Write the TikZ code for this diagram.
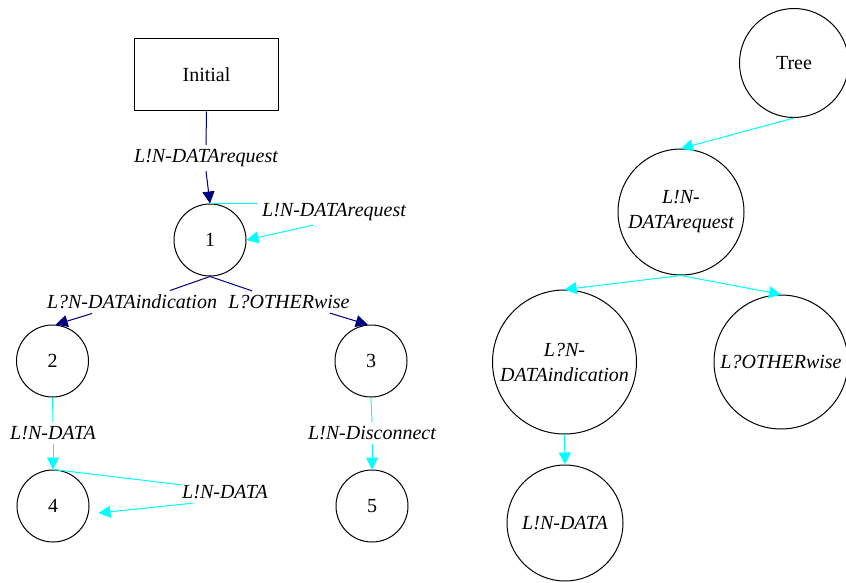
\documentclass[tikz,border=0pt]{standalone}
\usepackage{fontspec}
\setmainfont{Liberation Serif}
\usetikzlibrary{arrows.meta}
\definecolor{gvnavy}{RGB}{0,0,128}
\definecolor{gvcyan}{RGB}{0,255,255}
\begin{document}
\begin{tikzpicture}[x=0.5pt,y=-0.5pt,
  font=\fontsize{10pt}{12.5pt}\selectfont,
  st/.style={draw=black,line width=0.5pt,circle,inner sep=0pt},
  lab/.style={font=\fontsize{10pt}{12.5pt}\selectfont\itshape,inner sep=2pt},
  tip/.style={-{Triangle[length=6pt,width=6pt]}},
  nv/.style={draw=gvnavy,line width=0.5pt},
  cy/.style={draw=gvcyan,line width=0.5pt},
  nvtip/.style={nv,tip,fill=gvnavy},
  cytip/.style={cy,tip,fill=gvcyan}]
\useasboundingbox (0,0) rectangle (846,583);
% left graph
\node[draw=black,line width=0.5pt,minimum width=71.8pt,minimum height=36pt,inner sep=0pt] (init) at (206.5,75) {Initial};
\node[st,minimum size=36pt] (n1) at (210,240) {1};
\node[st,minimum size=36pt] (n2) at (52.5,361) {2};
\node[st,minimum size=36pt] (n3) at (371,361) {3};
\node[st,minimum size=36pt] (n4) at (53,506) {4};
\node[st,minimum size=36pt] (n5) at (372,506) {5};
\node[lab] (l0) at (206,158) {L!N-DATArequest};
\node[lab] (l1) at (334,212) {L!N-DATArequest};
\node[lab] (l2) at (132,302) {L?N-DATAindication};
\node[lab] (l3) at (289,302) {L?OTHERwise};
\node[lab] (l4) at (53,433) {L!N-DATA};
\node[lab] (l5) at (372,433) {L!N-Disconnect};
\node[lab] (l6) at (225,492) {L!N-DATA};
\draw[nv] (init.south) -- (l0.north);
\draw[nvtip] (l0.south) -- (n1.north);
\draw[cy] (n1.north) -- (n1.north -| l1.west);
\draw[cytip] ([xshift=-10.5pt]l1.south) -- (n1.east);
\draw[nv] (n1.south) -- ([xshift=19pt]l2.north);
\draw[nvtip] ([xshift=-20pt]l2.south) -- (n2.85);
\draw[nv] (n1.south) -- ([xshift=-18.5pt]l3.north);
\draw[nvtip] ([xshift=20.5pt]l3.south) -- (n3.95);
\draw[cy] (n2.south) -- (l4.north);
\draw[cytip] (l4.south) -- (n4.north);
\draw[cy] (n3.south) -- (l5.north);
\draw[cytip] (l5.south) -- (n5.north);
\draw[cy] (n4.north) -- ([shift={(2pt,-2pt)}]l6.north west);
\draw[cytip] ([xshift=-16pt]l6.south) -- ([shift={(4.5pt,-3.5pt)}]n4.east);
% right tree
\node[st,minimum size=54.5pt] (tree) at (794,63) {Tree};
\node[st,minimum size=63pt,align=center,font=\fontsize{10pt}{12.5pt}\selectfont\itshape] (req) at (681,212) {L!N-\\DATArequest};
\node[st,minimum size=72pt,align=center,font=\fontsize{10pt}{12.5pt}\selectfont\itshape] (ind) at (564.5,362) {L?N-\\DATAindication};
\node[st,minimum size=67pt,font=\fontsize{10pt}{12.5pt}\selectfont\itshape] (oth) at (781,362) {L?OTHERwise};
\node[st,minimum size=58pt,font=\fontsize{10pt}{12.5pt}\selectfont\itshape] (dat) at (565,523) {L!N-DATA};
\draw[cytip] (tree.south) -- (req.north);
\draw[cytip] (req.south) -- (ind.north);
\draw[cytip] (req.south) -- (oth.north);
\draw[cytip] (ind.south) -- (dat.north);
\end{tikzpicture}
\end{document}
